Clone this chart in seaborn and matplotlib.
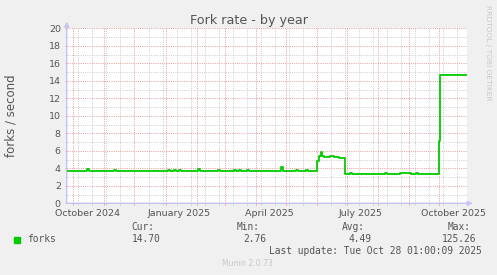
import numpy as np
import pandas as pd
import matplotlib
matplotlib.use("Agg")
import matplotlib.pyplot as plt
import matplotlib.dates as mdates
import seaborn as sns

# ---------------- data (piecewise-constant) ----------------
step_dates = [
    "2024-09-24", "2024-10-15", "2024-10-17", "2024-11-11", "2024-11-13",
    "2025-01-03", "2025-01-05", "2025-01-09", "2025-01-11", "2025-01-14",
    "2025-01-16", "2025-02-02", "2025-02-04", "2025-02-22", "2025-02-24",
    "2025-03-10", "2025-03-12", "2025-03-15", "2025-03-17", "2025-03-23",
    "2025-03-25", "2025-04-26", "2025-04-28", "2025-05-11", "2025-05-13",
    "2025-05-21", "2025-05-23", "2025-06-01", "2025-06-03", "2025-06-05",
    "2025-06-06", "2025-06-08", "2025-06-14", "2025-06-18", "2025-06-23",
    "2025-06-29", "2025-07-04", "2025-07-06", "2025-07-11", "2025-07-13",
    "2025-07-30", "2025-08-01", "2025-08-08", "2025-08-10", "2025-08-17",
    "2025-08-19", "2025-08-23", "2025-09-03", "2025-09-08", "2025-09-10",
    "2025-09-22", "2025-09-24", "2025-10-01", "2025-10-02", "2025-10-28 16:00",
]
fork_values = [
    3.66, 3.90, 3.66, 3.82, 3.66,
    3.80, 3.66, 3.82, 3.66, 3.82,
    3.66, 3.90, 3.66, 3.82, 3.70,
    3.82, 3.66, 3.80, 3.66, 3.82,
    3.66, 4.10, 3.72, 3.85, 3.70,
    3.78, 3.72, 4.80, 5.40, 5.88,
    5.45, 5.25, 5.35, 5.25, 5.15,
    3.30, 3.42, 3.30, 3.40, 3.30,
    3.40, 3.30, 3.45, 3.35, 3.40,
    3.32, 3.42, 3.35, 3.48, 3.32,
    3.40, 3.30, 7.10, 14.70, 14.70,
]

month_starts = pd.date_range("2024-10-01", "2025-10-01", freq="MS")
biweekly_sundays = pd.date_range("2024-10-06", "2025-10-19", freq="14D")
label_dates = ["2024-10-15", "2025-01-15", "2025-04-15", "2025-07-15", "2025-10-15"]
label_texts = ["October 2024", "January 2025", "April 2025", "July 2025", "October 2025"]
y_major = list(range(0, 21, 2))
y_minor = list(range(1, 20, 2))

legend_name = "forks"
stat_names = ["Cur:", "Min:", "Avg:", "Max:"]
stat_values = ["14.70", "2.76", "4.49", "125.26"]

X_START = pd.Timestamp("2024-09-24 09:30")
X_END = pd.Timestamp("2025-10-28 17:00")

# ---------------- figure ----------------
W, H = 497, 275
fig = plt.figure(figsize=(W / 100, H / 100), dpi=100, facecolor="#F0F0F0")
L, R, T, B = 66.7, 467.0, 28.3, 203.3
ax = fig.add_axes([L / W, 1 - B / H, (R - L) / W, (B - T) / H])
ax.set_facecolor("white")

df = pd.DataFrame({"date": pd.to_datetime(step_dates, format="mixed"), "forks": fork_values})
sns.lineplot(data=df, x="date", y="forks", ax=ax, color="#00CC00",
             linewidth=1.3, drawstyle="steps-post", estimator=None, zorder=5)

ax.set_xlim(X_START, X_END)
ax.set_ylim(0, 20)

RED = "#E8A0A0"
GRAY = "#D0D0D0"
TXT = "#555555"

ax.set_xticks(month_starts)
ax.set_xticks(biweekly_sundays, minor=True)
ax.set_xticklabels([])
ax.set_yticks(y_major)
ax.set_yticks(y_minor, minor=True)
ax.set_yticklabels([str(v) for v in y_major])

ax.grid(which="minor", color=GRAY, linestyle=(0, (1, 1.2)), linewidth=0.72)
ax.grid(which="major", color=RED, linestyle=(0, (1, 1.2)), linewidth=0.72)
ax.set_axisbelow(True)

ax.tick_params(axis="both", which="major", length=1.6, width=0.72, color=RED,
               labelsize=6.8, labelcolor=TXT)
ax.tick_params(axis="both", which="minor", length=1.6, width=0.72, color=GRAY)
ax.tick_params(axis="y", pad=2.6)
for s in ax.spines.values():
    s.set_visible(False)
ax.set_xlabel("")
ax.set_ylabel("")

for d, t in zip(label_dates, label_texts):
    ax.text(pd.Timestamp(d), -(215.7 - B) / (B - T), t, transform=ax.get_xaxis_transform(),
            ha="center", va="baseline", fontsize=6.8, color=TXT)

# axes with arrows
AX_COL = "#C4C4F4"
ax.annotate("", xy=(1 + 5.7 / (R - L), 0), xytext=(0, 0), xycoords="axes fraction",
            textcoords="axes fraction",
            arrowprops=dict(arrowstyle="-|>", color=AX_COL, lw=1.0, mutation_scale=7,
                            shrinkA=0, shrinkB=0))
ax.annotate("", xy=(0, 1 + 6.6 / (B - T)), xytext=(0, 0), xycoords="axes fraction",
            textcoords="axes fraction",
            arrowprops=dict(arrowstyle="-|>", color=AX_COL, lw=1.0, mutation_scale=7,
                            shrinkA=0, shrinkB=0))

# titles / labels
fig.text(249 / W, 1 - 24.0 / H, "Fork rate - by year", ha="center", va="baseline",
         fontsize=9.2, color=TXT)
fig.text(11.5 / W, 1 - 116 / H, "forks / second", rotation=90, ha="center", va="center",
         fontsize=8.5, color=TXT)
fig.text(488.3 / W, 1 - 53.3 / H, "RRDTOOL / TOBI OETIKER", rotation=270, ha="center",
         va="center", fontsize=5.4, color="#C8C8C8")

# legend
MONO = "DejaVu Sans Mono"
fig.patches.append(plt.Rectangle((14 / W, 1 - 242.7 / H), 6 / W, 5.6 / H,
                                 transform=fig.transFigure, color="#00CC00"))
fig.text(26.7 / W, 1 - 242.3 / H, legend_name, ha="left", va="baseline",
         fontsize=6.9, family=MONO, color=TXT)
head_x = [131.7, 236.7, 342.3, 447.3]
val_right = [161.0, 266.7, 371.7, 476.7]
for hx, vr, n, v in zip(head_x, val_right, stat_names, stat_values):
    fig.text(hx / W, 1 - 230.0 / H, n, ha="left", va="baseline", fontsize=6.9,
             family=MONO, color=TXT)
    fig.text(vr / W, 1 - 242.3 / H, v, ha="right", va="baseline", fontsize=6.9,
             family=MONO, color=TXT)
fig.text(481.7 / W, 1 - 254.0 / H, "Last update: Tue Oct 28 01:00:09 2025", ha="right",
         va="baseline", fontsize=6.9, family=MONO, color=TXT)
fig.text(247.5 / W, 1 - 266.3 / H, "Munin 2.0.73", ha="center", va="baseline",
         fontsize=5.6, color="#C8C8C8")

fig.savefig("out.png", dpi=100, facecolor=fig.get_facecolor())
